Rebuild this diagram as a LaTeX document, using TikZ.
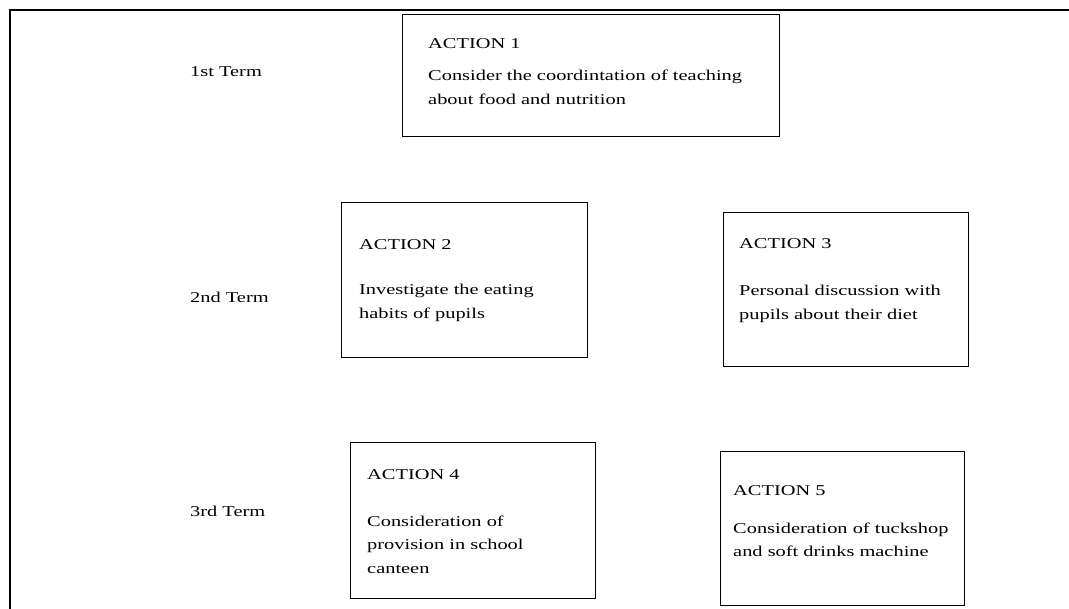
\documentclass[tikz,border=0pt]{standalone}
\usepackage{fontspec}
\setmainfont[FakeStretch=1.36]{Liberation Serif}
\begin{document}
\begin{tikzpicture}[x=1pt,y=-1pt,
  box/.style={draw, line width=1pt, anchor=north west, inner sep=0pt, outer sep=0pt},
  txt/.style={anchor=base west, inner sep=0pt, font=\fontsize{15}{24}\selectfont},
  frame/.style={line width=2pt}]
\useasboundingbox (0,0) rectangle (1069,609);
% outer frame
\coordinate (ftr) at (1069,10);
\coordinate (ftl) at (10,10);
\coordinate (fbl) at (10,609);
\draw[frame] (ftr) -- (ftl) -- (fbl);
% term labels
\node[txt] (t1) at (190,77) {1st Term};
\node[txt] (t2) at (190,303) {2nd Term};
\node[txt] (t3) at (190,517) {3rd Term};
% boxes
\node[box, minimum width=377pt, minimum height=122pt] (a1) at (402,15) {};
\node[box, minimum width=246pt, minimum height=155pt] (a2) at (341,203) {};
\node[box, minimum width=245pt, minimum height=154pt] (a3) at (723,213) {};
\node[box, minimum width=245pt, minimum height=155pt] (a4) at (350,443) {};
\node[box, minimum width=244pt, minimum height=153pt] (a5) at (720,452) {};
% action 1
\node[txt] (a1t) at (428,49) {ACTION 1};
\node[txt] (a1l1) at (428,81) {Consider the coordintation of teaching};
\node[txt] (a1l2) at (428,105) {about food and nutrition};
% action 2
\node[txt] (a2t) at (359,250) {ACTION 2};
\node[txt] (a2l1) at (359,295) {Investigate the eating};
\node[txt] (a2l2) at (359,319) {habits of pupils};
% action 3
\node[txt] (a3t) at (739,249) {ACTION 3};
\node[txt] (a3l1) at (739,296) {Personal discussion with};
\node[txt] (a3l2) at (739,320) {pupils about their diet};
% action 4
\node[txt] (a4t) at (367,480) {ACTION 4};
\node[txt] (a4l1) at (367,526) {Consideration of};
\node[txt] (a4l2) at (367,549) {provision in school};
\node[txt] (a4l3) at (367,573) {canteen};
% action 5
\node[txt] (a5t) at (733,496) {ACTION 5};
\node[txt] (a5l1) at (733,533) {Consideration of tuckshop};
\node[txt] (a5l2) at (733,556) {and soft drinks machine};
\end{tikzpicture}
\end{document}
